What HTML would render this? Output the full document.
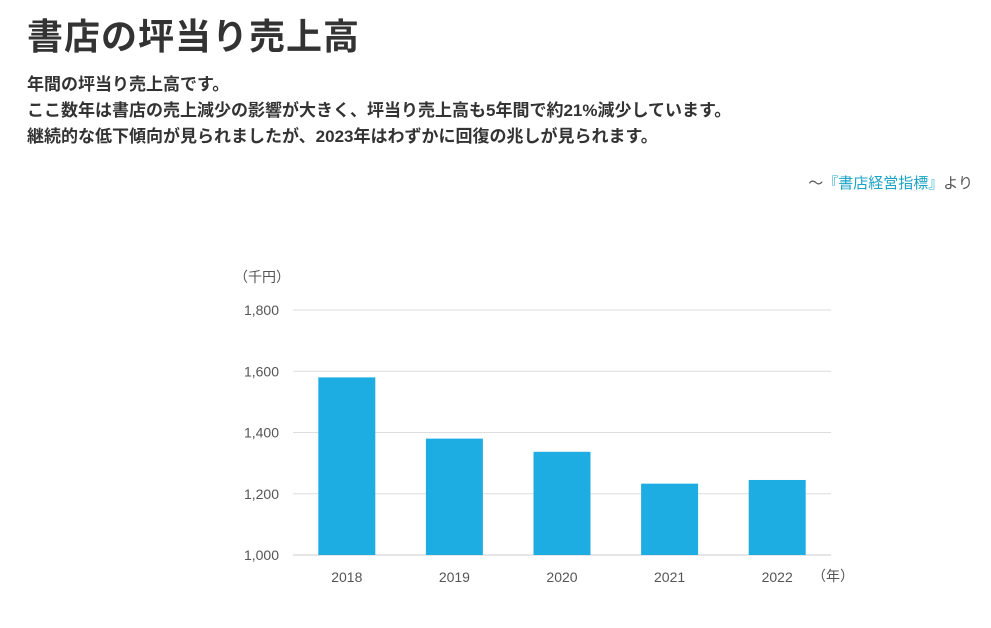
<!DOCTYPE html>
<html><head><meta charset="utf-8"><style>
body{margin:0;width:991px;height:628px;background:#fff;font-family:"Liberation Sans","Noto Sans CJK JP",sans-serif;color:#333;overflow:hidden;position:relative}
h1{position:absolute;left:27px;top:8px;margin:0;font-size:36px;font-weight:bold;color:#333;letter-spacing:1px}
.desc{position:absolute;left:27px;top:72px;margin:0;font-size:17px;font-weight:bold;line-height:26px;color:#333}
.src{position:absolute;right:18px;top:172px;font-size:15px;color:#555}
.src span{color:#1aa3c4}
svg{position:absolute;left:0;top:0}
</style></head><body>
<h1>書店の坪当り売上高</h1>
<p class="desc">年間の坪当り売上高です。<br>ここ数年は書店の売上減少の影響が大きく、坪当り売上高も5年間で約21%減少しています。<br>継続的な低下傾向が見られましたが、2023年はわずかに回復の兆しが見られます。</p>
<div class="src">～<span>『書店経営指標』</span>より</div>
<svg id="chart" width="991" height="628"></svg>
<script>
const categories=["2018","2019","2020","2021","2022"];
const values=[1580,1380,1337,1233,1245];
const yTicks=[1000,1200,1400,1600,1800];
const yTickLabels=["1,000","1,200","1,400","1,600","1,800"];
const NS="http://www.w3.org/2000/svg";
const svg=document.getElementById("chart");
const x0=293,x1=831,yB=555,yT=310,vMin=1000,vMax=1800;
const y=v=>yB-(v-vMin)/(vMax-vMin)*(yB-yT);
const band=(x1-x0)/categories.length;
const xc=i=>x0+band*(i+0.5);
function mk(t,a){const e=document.createElementNS(NS,t);for(const k in a)e.setAttribute(k,a[k]);svg.appendChild(e);return e;}
yTicks.forEach((t,i)=>{
 const g=mk("line",{x1:x0,x2:x1,y1:y(t),y2:y(t),stroke:i==0?"#ccc":"#ddd","stroke-width":1});
 
 
 const l=mk("text",{x:279,y:y(t)+5,"text-anchor":"end","font-size":14,fill:"#555"});
 l.textContent=yTickLabels[i];
 
 
});
const u=mk("text",{x:234,y:282,"font-size":14,fill:"#555"});u.textContent="（千円）";


values.forEach((v,i)=>{
 const b=mk("rect",{x:xc(i)-28.5,y:y(v),width:57,height:yB-y(v),fill:"#1eade3"});
 
 
 const l=mk("text",{x:xc(i),y:582,"text-anchor":"middle","font-size":14,fill:"#555"});
 l.textContent=categories[i];
 
 
});
const xu=mk("text",{x:812,y:581,"font-size":14,fill:"#555"});xu.textContent="（年）";


</script>
</body></html>
